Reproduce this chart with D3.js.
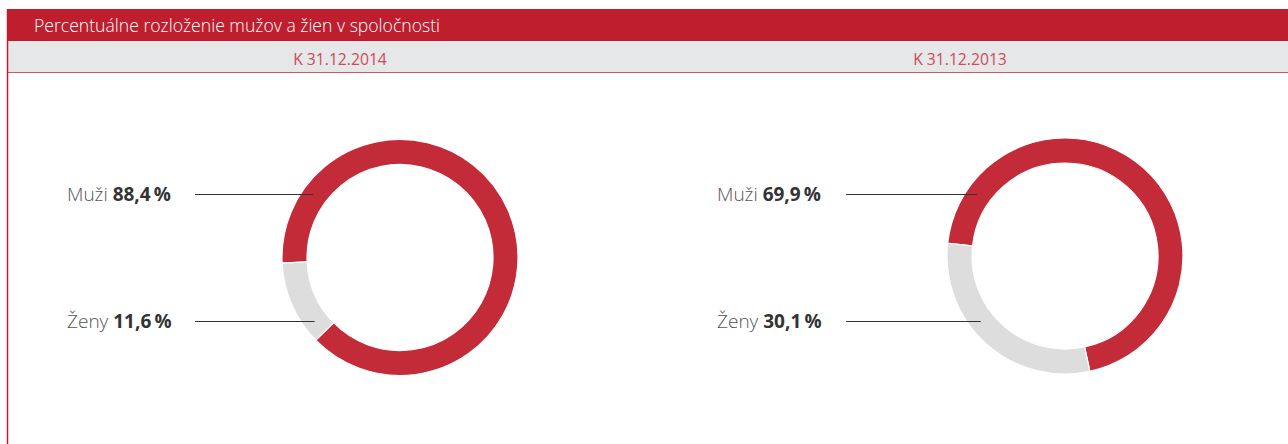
<!DOCTYPE html>
<html>
<head>
<meta charset="utf-8">
<script src="https://cdn.jsdelivr.net/npm/d3@7"></script>
<style>
  body { margin:0; background:#fff; }
  svg { display:block; font-family:"Open Sans", "Noto Sans", sans-serif; }
</style>
</head>
<body>
<div id="chart-area"></div>
<script>
// data
var title = "Percentuálne rozloženie mužov a žien v spoločnosti";
var periods = ["K 31.12.2014", "K 31.12.2013"];
var categories = ["Muži", "Ženy"];
var values2014 = [88.4, 11.6];
var values2013 = [69.9, 30.1];
var series = [values2014, values2013];

var width = 1288, height = 444;
var colors = { red:"#c42b38", grey:"#dddddd", header:"#be1e2d", band:"#e6e7e8" };

// layout of the two panels
var panels = [
  { cx:400, cy:257.5, headX:340, labelX:67, lineX:195, start:-92.7 },
  { cx:1065, cy:256, headX:960, labelX:717, lineX:846, start:-83.8 }
];
var outerR = 118, innerR = 93;
var rowY = 258, rowOffsets = [-63, 64];

var svg = d3.select("#chart-area")
  .append("svg")
    .attr("width", width)
    .attr("height", height);

// header
svg.append("rect")
  .attr("x", 7).attr("y", 9)
  .attr("width", width - 7).attr("height", 32)
  .attr("fill", colors.header);
svg.append("text")
  .attr("x", 34).attr("y", 32)
  .attr("fill", "#fff")
  .attr("font-size", "17.6px")
  .attr("font-weight", 300)
  .text(title);

// sub header band
svg.append("rect")
  .attr("x", 7).attr("y", 41)
  .attr("width", width - 7).attr("height", 31)
  .attr("fill", colors.band);
svg.append("line")
  .attr("x1", 7).attr("x2", width)
  .attr("y1", 72.5).attr("y2", 72.5)
  .attr("stroke", "#d2555f").attr("stroke-width", 1);
// left border
svg.append("line")
  .attr("x1", 7.5).attr("x2", 7.5)
  .attr("y1", 9).attr("y2", height)
  .attr("stroke", colors.header).attr("stroke-width", 1.5);

var arc = d3.arc().innerRadius(innerR).outerRadius(outerR);
var lineR = 107;

panels.forEach(function(p, i){
  svg.append("text")
    .attr("x", p.headX).attr("y", 65)
    .attr("text-anchor", "middle")
    .attr("fill", "#cf4b57")
    .attr("font-size", "15.7px")
    .text(periods[i]);

  var pie = d3.pie()
    .sort(null)
    .startAngle(p.start * Math.PI / 180)
    .endAngle(p.start * Math.PI / 180 + 2 * Math.PI);

  var data = categories.map(function(c, j){ return { name:c, value:series[i][j] }; });

  var g = svg.append("g")
    .attr("transform", "translate(" + p.cx + "," + p.cy + ")");

  g.selectAll("path")
    .data(pie.value(function(d){ return d.value; })(data))
    .enter()
    .append("path")
      .attr("d", arc)
      .attr("fill", function(d, j){ return j == 0 ? colors.red : colors.grey; })
      .attr("stroke", "#fff")
      .attr("stroke-width", 1.2);

  // labels + leader lines
  data.forEach(function(d, j){
    var y = rowY + rowOffsets[j];
    var dy = y - p.cy;
    var xEnd = p.cx - Math.sqrt(lineR * lineR - dy * dy);
    svg.append("line")
      .attr("x1", p.lineX).attr("x2", xEnd)
      .attr("y1", y - 0.5).attr("y2", y - 0.5)
      .attr("stroke", "#333").attr("stroke-width", 1);

    var t = svg.append("text")
      .attr("x", p.labelX).attr("y", y + 6)
      .attr("font-size", "19px")
      .attr("fill", "#555");
    t.append("tspan").attr("font-weight", 300).text(d.name + " ");
    t.append("tspan")
      .attr("font-weight", 700)
      .attr("fill", "#333")
      .text(d3.format(".1f")(d.value).replace(".", ",") + "\u2009%");
  });
});
</script>
</body>
</html>
